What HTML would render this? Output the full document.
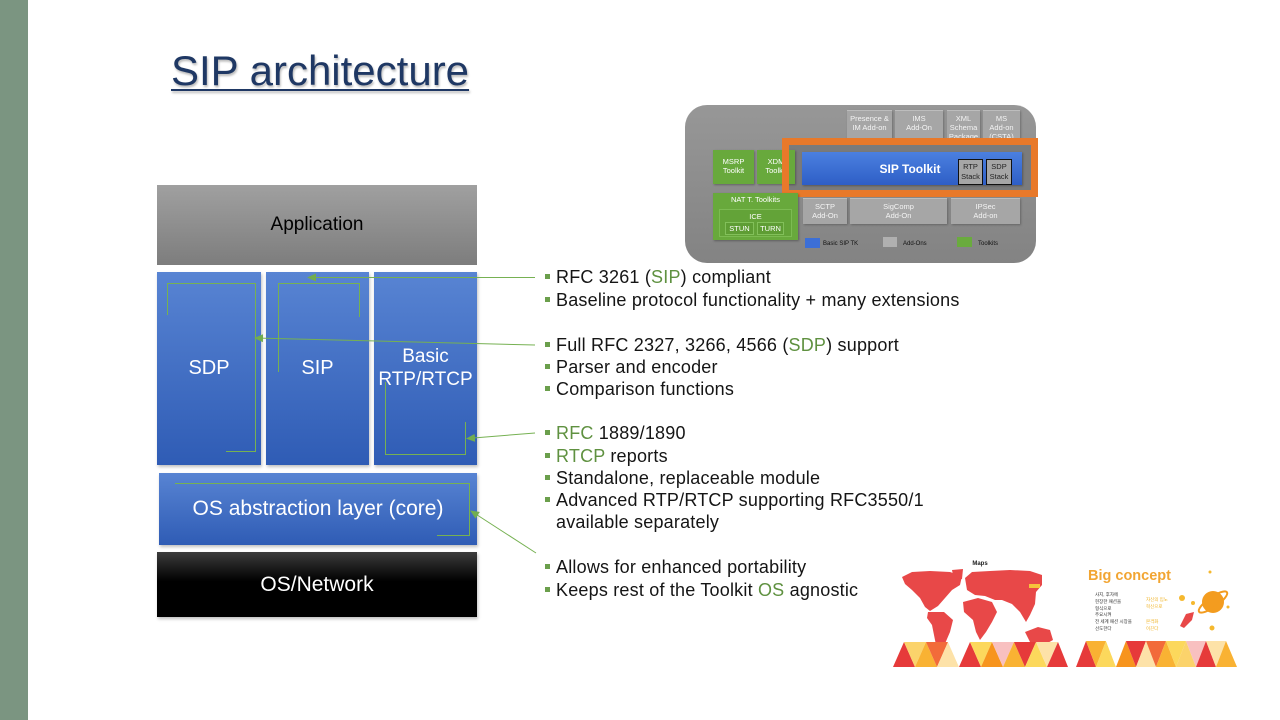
<!DOCTYPE html>
<html><head><meta charset="utf-8">
<style>
*{margin:0;padding:0;box-sizing:border-box}
body{width:1280px;height:720px;background:#fff;position:relative;overflow:hidden;font-family:"Liberation Sans","DejaVu Sans",sans-serif}
.a{position:absolute}
.bar{left:0;top:0;width:28px;height:720px;background:#7b9581}
.title{left:171px;top:50px;font-size:42px;line-height:42px;color:#1f3864;text-decoration:underline;text-decoration-thickness:2px;text-underline-offset:4px;text-shadow:1px 2px 2px rgba(0,0,0,.28);white-space:nowrap}
.box{display:flex;align-items:center;justify-content:center;text-align:center}
.app{left:157px;top:185px;width:320px;height:80px;background:linear-gradient(#a0a0a0,#7d7d7d);color:#000;font-size:19px}
.blue{background:linear-gradient(#5884d3,#2f5cb5);color:#fff;box-shadow:1px 2px 3px rgba(0,0,0,.25)}
.col{top:272px;height:193px;font-size:20px;line-height:23px}
.osa{left:159px;top:473px;width:318px;height:72px;font-size:21px}
.osn{left:157px;top:552px;width:320px;height:65px;background:linear-gradient(#3c3c3c 0%,#000 45%,#000 100%);color:#fff;font-size:21px;box-shadow:1px 2px 3px rgba(0,0,0,.25)}
.b{position:absolute;left:545px;height:22px;line-height:22px;font-size:18px;letter-spacing:.2px;color:#151515;white-space:nowrap}
.b i{position:absolute;left:0;top:8px;width:5px;height:5px;background:#6b9f4c}
.b span{position:absolute;left:11px;top:0}
.g{color:#5f9140}
/* top-right diagram */
.ao{background:#a6a6a6;color:#f4f4f4;font-size:7.5px;line-height:9px;text-align:center;border-top:1px solid #bdbdbd;padding-top:3px;box-shadow:1px 1px 2px rgba(0,0,0,.25)}
.gr{background:#68a93c;color:#fff;font-size:7.5px;line-height:9px;text-align:center;box-shadow:1px 1px 2px rgba(0,0,0,.3)}
.lg{font-size:6px;color:#111;line-height:10px}
</style></head><body>
<div class="a bar"></div>
<div class="a title">SIP architecture</div>

<div class="a box app">Application</div>
<div class="a box blue col" style="left:157px;width:104px">SDP</div>
<div class="a box blue col" style="left:266px;width:103px">SIP</div>
<div class="a box blue col" style="left:374px;width:103px;font-size:19px;padding-bottom:2px">Basic<br>RTP/RTCP</div>
<div class="a box blue osa">OS abstraction layer (core)</div>
<div class="a box osn">OS/Network</div>

<!-- bullets -->
<div class="b" style="top:266px"><i></i><span>RFC 3261 (<span class="g" style="position:static">SIP</span>) compliant</span></div>
<div class="b" style="top:289px"><i></i><span>Baseline protocol functionality + many extensions</span></div>
<div class="b" style="top:334px"><i></i><span>Full RFC 2327, 3266, 4566 (<span class="g" style="position:static">SDP</span>) support</span></div>
<div class="b" style="top:356px"><i></i><span>Parser and encoder</span></div>
<div class="b" style="top:378px"><i></i><span>Comparison functions</span></div>
<div class="b" style="top:422px"><i></i><span><span class="g" style="position:static">RFC</span> 1889/1890</span></div>
<div class="b" style="top:445px"><i></i><span><span class="g" style="position:static">RTCP</span> reports</span></div>
<div class="b" style="top:467px"><i></i><span>Standalone, replaceable module</span></div>
<div class="b" style="top:489px"><i></i><span>Advanced RTP/RTCP supporting RFC3550/1</span></div>
<div class="b" style="top:511px"><span>available separately</span></div>
<div class="b" style="top:556px"><i></i><span>Allows for enhanced portability</span></div>
<div class="b" style="top:579px"><i></i><span>Keeps rest of the Toolkit <span class="g" style="position:static">OS</span> agnostic</span></div>

<!-- connectors -->
<svg class="a" style="left:0;top:0" width="1280" height="720" viewBox="0 0 1280 720">
<defs><marker id="ar" markerUnits="userSpaceOnUse" markerWidth="9" markerHeight="8" refX="8" refY="4" orient="auto"><path d="M0,0 L9,4 L0,8 z" fill="#72ad4f"/></marker></defs>
<g fill="none" stroke="#76b152" stroke-width="1">
<polyline points="167.5,315 167.5,283.5 255.5,283.5 255.5,451.5 226,451.5"/>
<polyline points="278.5,372 278.5,283.5 359.5,283.5 359.5,317"/>
<polyline points="385.5,382 385.5,454.5 465.5,454.5 465.5,422"/>
<polyline points="175,483.5 469.5,483.5 469.5,535.5 437,535.5"/>
<line x1="535" y1="277.5" x2="308" y2="277.5" marker-end="url(#ar)"/>
<line x1="535" y1="345" x2="255" y2="338" marker-end="url(#ar)"/>
<line x1="535" y1="433" x2="467" y2="438.5" marker-end="url(#ar)"/>
<line x1="536" y1="553" x2="471" y2="511" marker-end="url(#ar)"/>
</g>
</svg>

<!-- top-right toolkit diagram -->
<div class="a" style="left:685px;top:105px;width:351px;height:158px;border-radius:22px;background:linear-gradient(#979797,#838383)"></div>
<div class="a ao" style="left:847px;top:110px;width:45px;height:34px">Presence &amp;<br>IM Add-on</div>
<div class="a ao" style="left:895px;top:110px;width:48px;height:34px">IMS<br>Add-On</div>
<div class="a ao" style="left:947px;top:110px;width:33px;height:34px">XML<br>Schema<br>Package</div>
<div class="a ao" style="left:983px;top:110px;width:37px;height:34px">MS<br>Add-on<br>(CSTA)</div>
<div class="a" style="left:789px;top:145px;width:242px;height:45px;background:#7b7b7b"></div>
<div class="a gr" style="left:713px;top:150px;width:41px;height:34px;padding-top:7px">MSRP<br>Toolkit</div>
<div class="a gr" style="left:757px;top:150px;width:38px;height:34px;padding-top:7px">XDM<br>Toolkit</div>
<div class="a box" style="left:802px;top:152px;width:220px;height:33px;background:linear-gradient(#4b80e0,#2e5ec6);color:#fff;font-size:12px;font-weight:bold;padding-right:4px;box-shadow:1px 1px 2px rgba(0,0,0,.3)">SIP Toolkit</div>
<div class="a" style="left:958px;top:159px;width:25px;height:26px;background:#a6a6a6;border:1px solid #111;font-size:7.5px;line-height:10px;text-align:center;padding-top:2px;color:#222">RTP<br>Stack</div>
<div class="a" style="left:986px;top:159px;width:26px;height:26px;background:#a6a6a6;border:1px solid #111;font-size:7.5px;line-height:10px;text-align:center;padding-top:2px;color:#222">SDP<br>Stack</div>
<div class="a" style="left:782px;top:138px;width:256px;height:59px;border:7px solid #e8792a"></div>
<div class="a gr" style="left:713px;top:193px;width:85px;height:47px;padding-top:2px">NAT T. Toolkits</div>
<div class="a" style="left:719px;top:209px;width:73px;height:28px;background:#63a338;border:1px solid #7cbb52;color:#fff;font-size:7.5px;line-height:9px;text-align:center;padding-top:2px">ICE</div>
<div class="a" style="left:725px;top:222px;width:29px;height:13px;background:#5e9d34;border:1px solid #82c05a;color:#fff;font-size:7.5px;line-height:11px;text-align:center">STUN</div>
<div class="a" style="left:757px;top:222px;width:27px;height:13px;background:#5e9d34;border:1px solid #82c05a;color:#fff;font-size:7.5px;line-height:11px;text-align:center">TURN</div>
<div class="a ao" style="left:803px;top:198px;width:44px;height:26px">SCTP<br>Add-On</div>
<div class="a ao" style="left:850px;top:198px;width:97px;height:26px">SigComp<br>Add-On</div>
<div class="a ao" style="left:951px;top:198px;width:69px;height:26px">IPSec<br>Add-on</div>
<div class="a" style="left:805px;top:238px;width:15px;height:10px;background:#3c6fd6"></div>
<div class="a lg" style="left:823px;top:239px">Basic SIP TK</div>
<div class="a" style="left:883px;top:237px;width:14px;height:10px;background:#b0b0b0"></div>
<div class="a lg" style="left:903px;top:239px">Add-Ons</div>
<div class="a" style="left:957px;top:237px;width:15px;height:10px;background:#6aab3e"></div>
<div class="a lg" style="left:978px;top:239px">Toolkits</div>

<!-- bottom-right thumbnails -->
<svg class="a" style="left:880px;top:550px" width="370" height="130" viewBox="880 550 370 130">
<text x="980" y="565" font-size="6" font-weight="bold" fill="#222" text-anchor="middle" font-family="Liberation Sans, sans-serif">Maps</text>
<g fill="#e84848">
<polygon points="902,577 912,572 930,571 950,572 962,576 960,585 952,590 945,598 938,606 930,611 925,607 920,598 912,590 905,584"/>
<polygon points="952,570 963,569 962,579 954,580"/>
<polygon points="928,612 944,612 953,620 950,632 944,646 938,655 935,640 932,625 927,618"/>
<polygon points="965,578 972,572 990,571 1010,570 1030,571 1042,575 1042,585 1036,592 1035,604 1030,615 1026,622 1020,612 1012,604 1002,600 995,600 985,596 975,595 967,590"/>
<polygon points="963,602 978,598 992,602 997,612 992,622 986,632 980,640 976,632 973,620 964,612"/>
<polygon points="1025,632 1038,627 1050,630 1053,640 1044,645 1030,642"/>
</g>
<rect x="1029" y="584" width="11" height="4" fill="#f6c33a"/>
<g>
<polygon points="893,667 915,667 904,642" fill="#e63a3a"/>
<polygon points="904,642 926,642 915,667" fill="#fbd36b"/>
<polygon points="915,667 937,667 926,642" fill="#f9b233"/>
<polygon points="926,642 948,642 937,667" fill="#f26b3a"/>
<polygon points="937,667 959,667 948,642" fill="#fde2a8"/>
<polygon points="948,642 970,642 959,667" fill="#ffffff"/>
<polygon points="959,667 981,667 970,642" fill="#e63a3a"/>
<polygon points="970,642 992,642 981,667" fill="#fcd85c"/>
<polygon points="981,667 1003,667 992,642" fill="#f7941d"/>
<polygon points="992,642 1014,642 1003,667" fill="#f8c0c0"/>
<polygon points="1003,667 1025,667 1014,642" fill="#f9b233"/>
<polygon points="1014,642 1036,642 1025,667" fill="#e63a3a"/>
<polygon points="1025,667 1047,667 1036,642" fill="#fcd85c"/>
<polygon points="1036,642 1058,642 1047,667" fill="#fde2a8"/>
<polygon points="1047,667 1068,667 1058,642" fill="#e63a3a"/>
</g>
<text x="1088" y="580" font-size="14.5" font-weight="bold" fill="#f2a532" font-family="Liberation Sans, sans-serif">Big concept</text>
<g font-size="4.5" fill="#333" font-family="Liberation Sans, Noto Sans CJK KR, sans-serif">
<text x="1095" y="596">사지, 후자에</text>
<text x="1095" y="603">현장한 패션을</text>
<text x="1095" y="610">형식으로</text>
<text x="1095" y="616">주요시켜</text>
<text x="1095" y="623">전 세계 패션 시장을</text>
<text x="1095" y="630">선도한다</text>
</g>
<g font-size="4.5" fill="#f0b429" font-family="Liberation Sans, Noto Sans CJK KR, sans-serif">
<text x="1146" y="601">자신의 입노</text>
<text x="1146" y="608">혁신으로</text>
<text x="1146" y="623">본격화</text>
<text x="1146" y="630">이끈다</text>
</g>
<circle cx="1213" cy="602" r="11" fill="#f39c1f"/>
<ellipse cx="1213" cy="602" rx="17" ry="5" fill="none" stroke="#f39c1f" stroke-width="2" transform="rotate(-35 1213 602)"/>
<path d="M1180,626 L1186,614 L1194,612 L1192,620 L1184,628 z" fill="#e84848"/>
<circle cx="1182" cy="598" r="3" fill="#f5b82e"/>
<circle cx="1193" cy="603" r="2" fill="#f5b82e"/>
<circle cx="1210" cy="572" r="1.5" fill="#f5b82e"/>
<circle cx="1228" cy="607" r="1.5" fill="#f5b82e"/>
<circle cx="1212" cy="628" r="2.5" fill="#f5b82e"/>
<g>
<polygon points="1076,667 1096,667 1086,641" fill="#e63a3a"/>
<polygon points="1086,641 1106,641 1096,667" fill="#f9b233"/>
<polygon points="1096,667 1116,667 1106,641" fill="#fcd85c"/>
<polygon points="1106,641 1126,641 1116,667" fill="#ffffff"/>
<polygon points="1116,667 1136,667 1126,641" fill="#f7941d"/>
<polygon points="1126,641 1146,641 1136,667" fill="#e63a3a"/>
<polygon points="1136,667 1156,667 1146,641" fill="#fde2a8"/>
<polygon points="1146,641 1166,641 1156,667" fill="#f26b3a"/>
<polygon points="1156,667 1176,667 1166,641" fill="#f9b233"/>
<polygon points="1166,641 1186,641 1176,667" fill="#fcd85c"/>
<polygon points="1176,667 1196,667 1186,641" fill="#fbd36b"/>
<polygon points="1186,641 1206,641 1196,667" fill="#f8c0c0"/>
<polygon points="1196,667 1216,667 1206,641" fill="#e63a3a"/>
<polygon points="1206,641 1226,641 1216,667" fill="#fde2a8"/>
<polygon points="1216,667 1237,667 1226,641" fill="#f9b233"/>
</g>
</svg>
</body></html>
